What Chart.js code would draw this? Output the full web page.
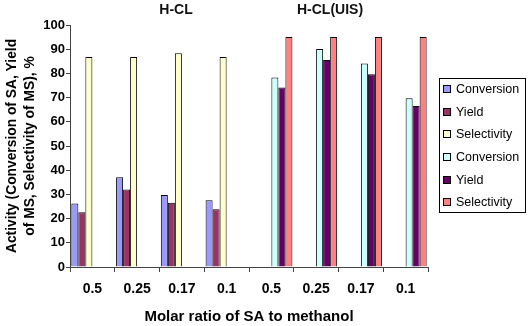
<!DOCTYPE html>
<html>
<head>
<meta charset="utf-8">
<script src="https://cdn.jsdelivr.net/npm/chart.js@4"></script>
<style>
  html, body { margin: 0; padding: 0; background: #fff; }
  #wrap { width: 529px; height: 326px; position: relative; }
</style>
</head>
<body>
<div id="wrap"><canvas id="c" width="529" height="326"></canvas></div>
<script>
// 數據
const categories = ['0.5', '0.25', '0.17', '0.1', '0.5', '0.25', '0.17', '0.1'];
const conversionHCL = [26.2, 37.1, 29.8, 27.6, null, null, null, null];
const yieldHCL = [22.6, 32.0, 26.6, 23.9, null, null, null, null];
const selectivityHCL = [86.8, 86.8, 88.3, 86.8, null, null, null, null];
const conversionUIS = [null, null, null, null, 78.3, 90.1, 84.1, 69.7];
const yieldUIS = [null, null, null, null, 74.2, 85.5, 79.6, 66.5];
const selectivityUIS = [null, null, null, null, 95.0, 95.0, 95.0, 95.0];
const yTicks = [0, 10, 20, 30, 40, 50, 60, 70, 80, 90, 100];

const FONT = 'Arial, "Liberation Sans", sans-serif';

// 自訂圖例 (有外框) 和群組標題
const extras = {
  id: 'extras',
  afterDraw(chart) {
    const c = chart.ctx;
    c.save();
    // 群組標題
    c.fillStyle = '#111';
    c.font = 'bold 14px ' + FONT;
    c.textAlign = 'center';
    c.textBaseline = 'middle';
    c.fillText('H-CL', 176, 10);
    c.fillText('H-CL(UIS)', 330, 10);

    // 圖例外框
    c.strokeStyle = '#000';
    c.lineWidth = 1;
    c.strokeRect(439.5, 78.5, 86, 134);
    c.font = '12.5px ' + FONT;
    c.textAlign = 'left';
    const ys = [89, 112, 134, 157, 180, 202];
    chart.data.datasets.forEach((ds, i) => {
      const y = ys[i];
      c.fillStyle = ds.backgroundColor;
      c.fillRect(443.5, y - 3.5, 7, 7);
      c.strokeRect(443.5, y - 3.5, 7, 7);
      c.fillStyle = '#000';
      c.fillText(ds.label, 456, y + 0.5);
    });
    c.restore();
  }
};

function mk(label, data, color) {
  return {
    label: label,
    data: data,
    backgroundColor: color,
    borderColor: '#000',
    borderWidth: 1,
    categoryPercentage: 0.94,
    barPercentage: 1.0
  };
}

new Chart(document.getElementById('c'), {
  type: 'bar',
  data: {
    labels: categories,
    datasets: [
      mk('Conversion', conversionHCL, '#9999FF'),
      mk('Yield', yieldHCL, '#993366'),
      mk('Selectivity', selectivityHCL, '#FFFFCC'),
      mk('Conversion', conversionUIS, '#CCFFFF'),
      mk('Yield', yieldUIS, '#660066'),
      mk('Selectivity', selectivityUIS, '#FF8080')
    ]
  },
  options: {
    responsive: false,
    animation: false,
    layout: { padding: { top: 25, right: 101, bottom: 0, left: 0 } },
    plugins: { legend: { display: false }, tooltip: { enabled: false } },
    scales: {
      x: {
        grid: { drawOnChartArea: false, tickLength: 5, color: '#444', offset: true },
        border: { color: '#444' },
        ticks: { color: '#000', font: { family: FONT, size: 14, weight: 'bold' }, padding: 9 },
        title: {
          display: true,
          text: 'Molar ratio of SA to methanol',
          color: '#000',
          font: { family: FONT, size: 15, weight: 'bold' },
          padding: { top: 5, bottom: 0 }
        },
        afterFit(s) { s.height = 59; }
      },
      y: {
        min: 0,
        max: 100,
        afterBuildTicks(s) { s.ticks = yTicks.map(v => ({ value: v })); },
        grid: { drawOnChartArea: false, tickLength: 4, color: '#444' },
        border: { color: '#444' },
        ticks: { color: '#000', font: { family: FONT, size: 13, weight: 'bold' }, padding: 1 },
        title: {
          display: true,
          text: ['Activity (Conversion of SA, Yield', 'of MS, Selectivity of MS), %'],
          color: '#000',
          font: { family: FONT, size: 13.8, weight: 'bold', lineHeight: 1.32 },
          padding: { top: 3, bottom: 2 }
        },
        afterFit(s) { s.width = 70; }
      }
    }
  },
  plugins: [extras]
});
</script>
</body>
</html>
